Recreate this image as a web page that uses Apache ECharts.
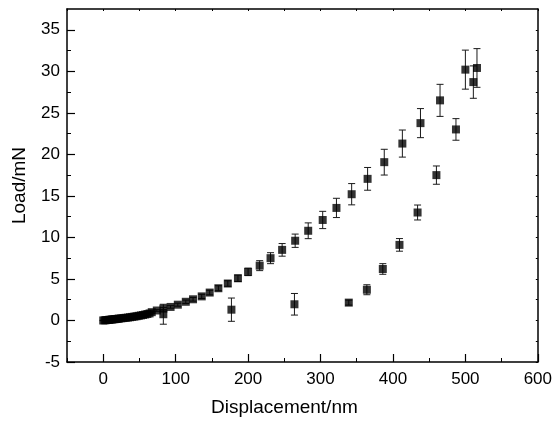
<!DOCTYPE html>
<html>
<head>
<meta charset="utf-8">
<script src="https://cdn.jsdelivr.net/npm/echarts@6/dist/echarts.min.js"></script>
<style>
  html, body { margin: 0; padding: 0; background: #fff; }
  #chart { width: 555px; height: 422px; }
</style>
</head>
<body>
<div id="chart"></div>
<script>
// Loading branch: displacement (nm), load (mN), standard deviation (mN)
const loadX = [0, 2, 4, 6, 8, 10, 12, 14, 16, 18, 20, 22, 25, 28, 31, 34, 37, 40, 43, 46, 49, 52, 55, 58, 61, 64, 67, 74, 83, 93, 103, 114, 124, 136, 147, 159, 172, 186, 200, 216, 231, 247, 265, 283, 303, 322, 343, 365, 388, 413, 438, 465, 500, 516];
const loadY = [0, 0.02, 0.04, 0.06, 0.08, 0.1, 0.12, 0.14, 0.16, 0.18, 0.2, 0.23, 0.26, 0.29, 0.32, 0.35, 0.39, 0.43, 0.47, 0.51, 0.56, 0.61, 0.66, 0.72, 0.78, 0.85, 1.0, 1.2, 1.43, 1.63, 1.9, 2.25, 2.55, 2.9, 3.36, 3.88, 4.45, 5.08, 5.85, 6.6, 7.5, 8.5, 9.6, 10.8, 12.1, 13.55, 15.2, 17.05, 19.06, 21.3, 23.76, 26.5, 30.2, 30.4];
const loadErr = [0.02, 0.02, 0.02, 0.02, 0.03, 0.03, 0.03, 0.03, 0.03, 0.04, 0.04, 0.04, 0.05, 0.05, 0.05, 0.05, 0.06, 0.06, 0.06, 0.07, 0.07, 0.08, 0.08, 0.08, 0.09, 0.09, 0.1, 0.1, 0.12, 0.15, 0.18, 0.2, 0.22, 0.25, 0.28, 0.3, 0.33, 0.38, 0.45, 0.6, 0.66, 0.76, 0.8, 0.95, 1.04, 1.16, 1.28, 1.37, 1.55, 1.63, 1.75, 1.93, 2.35, 2.33];

// Unloading branch
const unloadX = [511, 487, 460, 434, 409, 386, 364, 339, 264, 177, 83];
const unloadY = [28.7, 23.0, 17.5, 13.0, 9.1, 6.2, 3.7, 2.15, 1.95, 1.3, 0.75];
const unloadErr = [1.95, 1.3, 1.1, 0.9, 0.76, 0.64, 0.6, 0.3, 1.3, 1.4, 1.2];

// Axis ticks
const xTicks = [0, 100, 200, 300, 400, 500, 600];
const xMinorTicks = [-50, 50, 150, 250, 350, 450, 550];
const yTicks = [-5, 0, 5, 10, 15, 20, 25, 30, 35];
const yMinorTicks = [-2.5, 2.5, 7.5, 12.5, 17.5, 22.5, 27.5, 32.5];

const FONT = '"Liberation Sans", Arial, Helvetica, sans-serif';
const INK = '#000';

const pts = (xs, ys) => xs.map((x, i) => [x, ys[i]]);
const errPts = (xs, ys, es) => xs.map((x, i) => [x, ys[i], es[i]]);

function renderErrorBar(params, api) {
  const x = api.value(0), y = api.value(1), e = api.value(2);
  const hi = api.coord([x, y + e]);
  const lo = api.coord([x, y - e]);
  const cap = 3.5;
  const style = { stroke: '#1a1a1a', lineWidth: 1 };
  return {
    type: 'group',
    children: [
      { type: 'line', shape: { x1: hi[0], y1: hi[1], x2: lo[0], y2: lo[1] }, style },
      { type: 'line', shape: { x1: hi[0] - cap, y1: hi[1], x2: hi[0] + cap, y2: hi[1] }, style },
      { type: 'line', shape: { x1: lo[0] - cap, y1: lo[1], x2: lo[0] + cap, y2: lo[1] }, style }
    ]
  };
}

const axisLineStyle = { lineStyle: { color: INK, width: 1.5 } };
const xRange = { type: 'value', min: -50, max: 600 };
const yRange = { type: 'value', min: -5, max: 37.5 };

const option = {
  backgroundColor: '#fff',
  animation: false,
  grid: { left: 67, right: 15, top: 9, bottom: 60 },
  xAxis: [
    Object.assign({}, xRange, {
      position: 'bottom',
      axisLine: Object.assign({ show: true, onZero: false }, axisLineStyle),
      axisTick: { show: true, inside: true, length: 8, customValues: xTicks, lineStyle: { color: INK, width: 1.2 } },
      axisLabel: { customValues: xTicks, margin: 9, fontFamily: FONT, fontSize: 17, color: INK },
      splitLine: { show: false },
      name: 'Displacement/nm',
      nameLocation: 'middle',
      nameGap: 36,
      nameTextStyle: { fontFamily: FONT, fontSize: 19, color: INK, padding: [0, 36, 0, 0] }
    }),
    Object.assign({}, xRange, {
      position: 'bottom',
      axisLine: { show: false, onZero: false },
      axisTick: { show: true, inside: true, length: 4, customValues: xMinorTicks, lineStyle: { color: INK, width: 1 } },
      axisLabel: { show: false },
      splitLine: { show: false }
    }),
    Object.assign({}, xRange, {
      position: 'top',
      axisLine: Object.assign({ show: true, onZero: false }, axisLineStyle),
      axisTick: { show: true, inside: true, length: 2, customValues: xTicks.concat(xMinorTicks), lineStyle: { color: INK, width: 1 } },
      axisLabel: { show: false },
      splitLine: { show: false }
    })
  ],
  yAxis: [
    Object.assign({}, yRange, {
      position: 'left',
      axisLine: Object.assign({ show: true, onZero: false }, axisLineStyle),
      axisTick: { show: true, inside: true, length: 8, customValues: yTicks, lineStyle: { color: INK, width: 1.2 } },
      axisLabel: { customValues: yTicks, margin: 7, fontFamily: FONT, fontSize: 17, color: INK },
      splitLine: { show: false },
      name: 'Load/mN',
      nameLocation: 'middle',
      nameGap: 38,
      nameTextStyle: { fontFamily: FONT, fontSize: 19, color: INK }
    }),
    Object.assign({}, yRange, {
      position: 'left',
      axisLine: { show: false, onZero: false },
      axisTick: { show: true, inside: true, length: 4, customValues: yMinorTicks, lineStyle: { color: INK, width: 1 } },
      axisLabel: { show: false },
      splitLine: { show: false }
    }),
    Object.assign({}, yRange, {
      position: 'right',
      axisLine: Object.assign({ show: true, onZero: false }, axisLineStyle),
      axisTick: { show: true, inside: true, length: 2, customValues: yTicks.concat(yMinorTicks), lineStyle: { color: INK, width: 1 } },
      axisLabel: { show: false },
      splitLine: { show: false }
    })
  ],
  series: [
    {
      name: 'loading error', type: 'custom', xAxisIndex: 0, yAxisIndex: 0,
      renderItem: renderErrorBar, encode: { x: 0, y: 1 },
      data: errPts(loadX, loadY, loadErr), z: 2
    },
    {
      name: 'unloading error', type: 'custom', xAxisIndex: 0, yAxisIndex: 0,
      renderItem: renderErrorBar, encode: { x: 0, y: 1 },
      data: errPts(unloadX, unloadY, unloadErr), z: 2
    },
    {
      name: 'loading', type: 'scatter', xAxisIndex: 0, yAxisIndex: 0,
      symbol: 'rect', symbolSize: 8,
      itemStyle: { color: '#000' },
      data: pts(loadX, loadY), z: 3
    },
    {
      name: 'unloading', type: 'scatter', xAxisIndex: 0, yAxisIndex: 0,
      symbol: 'rect', symbolSize: 8,
      itemStyle: { color: '#000' },
      data: pts(unloadX, unloadY), z: 3
    }
  ]
};

const chart = echarts.init(document.getElementById('chart'), null, { renderer: 'canvas' });
chart.setOption(option);
</script>
</body>
</html>
